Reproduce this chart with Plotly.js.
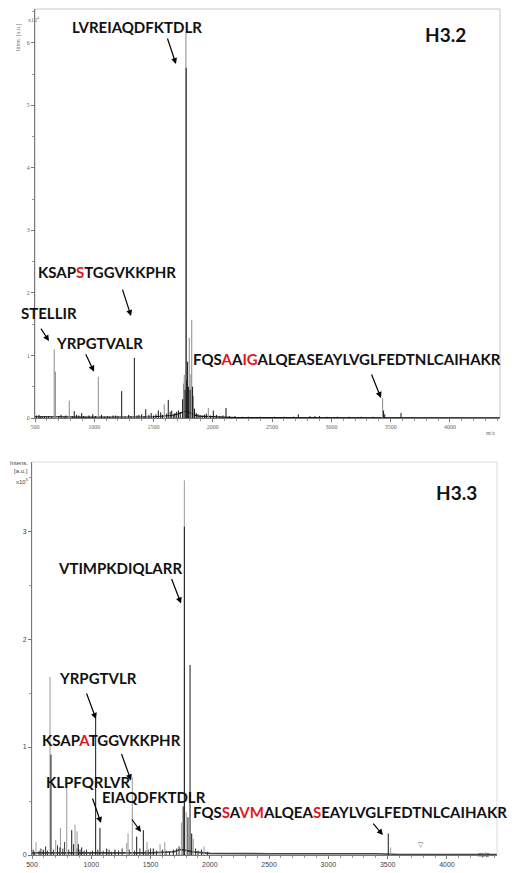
<!DOCTYPE html>
<html>
<head>
<meta charset="utf-8">
<script src="https://cdn.plot.ly/plotly-3.0.1.min.js"></script>
<style>html,body{margin:0;padding:0;background:#fff;}#chart{width:526px;height:873px;}</style>
</head>
<body>
<div id="chart"></div>
<script>
// ---------- H3.2 (top) spectrum, intensity in x10^4 ----------
var topGrayMz = [662, 672, 789, 1034, 1590, 1752, 1759, 1773, 1801, 1815, 1822, 1836, 1962, 3432];
var topGrayI  = [1.10, 0.74, 0.28, 0.66, 0.22, 0.55, 0.69, 6.16, 1.28, 0.70, 1.57, 0.35, 0.16, 0.32];
var topBlackMz = [534, 580, 831, 894, 987, 1158, 1231, 1338, 1377, 1434, 1540, 1624, 1653, 1695, 1745, 1766, 1775, 1780, 1787, 1794, 1808, 1829, 1845, 1892, 2004, 2111, 2187, 2250, 2721, 2819, 2861, 3440, 3450, 3587];
var topBlackI  = [0.05, 0.03, 0.11, 0.08, 0.06, 0.04, 0.43, 0.96, 0.05, 0.14, 0.12, 0.29, 0.12, 0.10, 0.30, 0.45, 5.60, 0.60, 0.90, 0.50, 0.45, 0.50, 0.15, 0.05, 0.12, 0.16, 0.03, 0.02, 0.06, 0.03, 0.03, 0.12, 0.06, 0.08];
var topNoiseMz = [512, 545, 560, 598, 615, 640, 700, 720, 745, 760, 815, 850, 870, 910, 930, 955, 1010, 1060, 1085, 1110, 1130, 1180, 1200, 1260, 1290, 1310, 1360, 1400, 1420, 1460, 1480, 1500, 1520, 1560, 1575, 1610, 1640, 1670, 1680, 1710, 1725, 1860, 1875, 1910, 1930, 1945, 1980, 2030, 2060, 2085, 2140, 2300, 2400, 2520, 2600, 2680, 2900, 2960, 3050, 3150, 3250, 3350];
var topNoiseI  = [0.04, 0.02, 0.03, 0.02, 0.03, 0.02, 0.03, 0.05, 0.02, 0.04, 0.03, 0.05, 0.04, 0.03, 0.02, 0.04, 0.03, 0.05, 0.02, 0.03, 0.02, 0.04, 0.03, 0.02, 0.05, 0.03, 0.04, 0.06, 0.03, 0.05, 0.08, 0.04, 0.06, 0.09, 0.05, 0.07, 0.10, 0.06, 0.08, 0.12, 0.09, 0.08, 0.06, 0.04, 0.05, 0.07, 0.04, 0.05, 0.03, 0.04, 0.03, 0.02, 0.02, 0.02, 0.02, 0.02, 0.03, 0.02, 0.02, 0.02, 0.02, 0.02];
var topBaseMz = [500, 600, 700, 900, 1100, 1300, 1500, 1650, 1700, 1740, 1770, 1800, 1840, 1880, 2000, 2150, 2200, 4420];
var topBaseI  = [0.02, 0.015, 0.02, 0.015, 0.015, 0.015, 0.02, 0.04, 0.06, 0.09, 0.11, 0.09, 0.05, 0.03, 0.02, 0.015, 0.005, 0.003];

// ---------- H3.3 (bottom) spectrum, intensity in x10^5 ----------
var botGrayMz = [534, 652, 700, 740, 793, 863, 880, 1299, 1310, 1346, 1470, 1580, 1620, 1760, 1785, 1800, 1860, 1951, 3525];
var botGrayI  = [0.12, 1.65, 0.14, 0.25, 0.67, 0.28, 0.22, 0.11, 0.20, 0.72, 0.12, 0.10, 0.12, 0.30, 3.47, 0.40, 0.15, 0.08, 0.07];
var botBlackMz = [595, 660, 736, 835, 891, 919, 1037, 1073, 1130, 1200, 1383, 1439, 1523, 1692, 1775, 1785, 1815, 1833, 1847, 3505];
var botBlackI  = [0.05, 0.93, 0.07, 0.23, 0.10, 0.07, 1.27, 0.25, 0.06, 0.05, 0.17, 0.23, 0.06, 0.05, 0.45, 3.04, 0.35, 1.76, 0.20, 0.20];
var botNoiseMz = [510, 520, 560, 575, 615, 630, 680, 715, 760, 775, 810, 850, 880, 905, 940, 960, 990, 1010, 1055, 1100, 1150, 1170, 1230, 1260, 1320, 1365, 1410, 1460, 1480, 1500, 1550, 1600, 1630, 1660, 1720, 1740, 1880, 1900, 1930, 1980];
var botNoiseI  = [0.05, 0.03, 0.04, 0.06, 0.08, 0.04, 0.05, 0.09, 0.06, 0.12, 0.05, 0.10, 0.06, 0.05, 0.04, 0.05, 0.03, 0.04, 0.05, 0.04, 0.05, 0.03, 0.04, 0.06, 0.05, 0.04, 0.06, 0.04, 0.05, 0.06, 0.04, 0.05, 0.04, 0.03, 0.06, 0.08, 0.06, 0.04, 0.05, 0.03];
var botBaseMz = [500, 700, 900, 1100, 1300, 1500, 1700, 1750, 1790, 1850, 1950, 2000, 2500, 3000, 3400, 3600, 4420];
var botBaseI  = [0.02, 0.02, 0.02, 0.02, 0.02, 0.02, 0.03, 0.05, 0.045, 0.03, 0.02, 0.015, 0.012, 0.012, 0.012, 0.005, 0.004];

var xTicks = [500, 1000, 1500, 2000, 2500, 3000, 3500, 4000];

function sticks(mz, inten) {
  var xs = [], ys = [];
  for (var i = 0; i < mz.length; i++) {
    xs.push(mz[i], mz[i], null);
    ys.push(0, inten[i], null);
  }
  return {x: xs, y: ys};
}
function stickTrace(mz, inten, color, width, xa, ya) {
  var s = sticks(mz, inten);
  return {x: s.x, y: s.y, xaxis: xa, yaxis: ya, type: 'scatter', mode: 'lines',
          line: {color: color, width: width}, hoverinfo: 'skip', showlegend: false};
}
function lineTrace(mz, inten, color, width, xa, ya) {
  return {x: mz, y: inten, xaxis: xa, yaxis: ya, type: 'scatter', mode: 'lines',
          line: {color: color, width: width}, hoverinfo: 'skip', showlegend: false};
}

var GRAY = '#8a8a8a', BLACK = '#161616';
var data = [
  lineTrace(topBaseMz, topBaseI, BLACK, 1.2, 'x', 'y'),
  stickTrace(topNoiseMz, topNoiseI, BLACK, 1, 'x', 'y'),
  stickTrace(topGrayMz, topGrayI, GRAY, 1, 'x', 'y'),
  stickTrace(topBlackMz, topBlackI, BLACK, 1, 'x', 'y'),
  lineTrace(botBaseMz, botBaseI, '#444', 1.6, 'x2', 'y2'),
  stickTrace(botNoiseMz, botNoiseI, '#333', 1, 'x2', 'y2'),
  stickTrace(botGrayMz, botGrayI, '#9a9a9a', 1, 'x2', 'y2'),
  stickTrace(botBlackMz, botBlackI, BLACK, 1, 'x2', 'y2')
];

var LBL = {family: 'Lato, "Open Sans", sans-serif', size: 15, color: '#111', weight: 700};
var RED = function (t) { return '<span style="color:#e8141b">' + t + '</span>'; };

function label(xa, ya, x, y, text, anchor) {
  return {xref: xa, yref: ya, x: x, y: y, text: text, showarrow: false,
          xanchor: anchor || 'center', yanchor: 'middle', font: LBL};
}
function arrow(xa, ya, x, y, ax, ay) {
  return {xref: xa, yref: ya, x: x, y: y, ax: ax, ay: ay, text: '', showarrow: true,
          arrowhead: 2, arrowsize: 1, arrowwidth: 1.2, arrowcolor: '#000'};
}

var annotations = [
  // top panel
  label('x', 'y', 1360, 6.26, 'LVREIAQDFKTDLR'),
  arrow('x', 'y', 1689, 5.66, -9, -27),
  label('x', 'y', 1111, 2.34, 'KSAP' + RED('S') + 'TGGVKKPHR'),
  arrow('x', 'y', 1310, 1.63, -9, -28),
  label('x', 'y', 614, 1.68, 'STELLIR'),
  arrow('x', 'y', 618, 1.23, -9, -14),
  label('x', 'y', 1048, 1.20, 'YRPGTVALR'),
  arrow('x', 'y', 998, 0.74, -9, -19),
  label('x', 'y', 1815, 0.94, 'FQS' + RED('A') + 'A' + RED('IG') + 'ALQEASEAYLVGLFEDTNLCAIHAKR', 'left'),
  arrow('x', 'y', 3418, 0.32, -10, -25),
  {xref: 'x', yref: 'y', x: 3962, y: 6.13, text: 'H3.2', showarrow: false,
   font: {family: 'Lato, "Open Sans", sans-serif', size: 19, color: '#111', weight: 700}},
  // bottom panel
  label('x2', 'y2', 1238, 2.66, 'VTIMPKDIQLARR'),
  arrow('x2', 'y2', 1757, 2.33, -10, -26),
  label('x2', 'y2', 1057, 1.64, 'YRPGTVLR'),
  arrow('x2', 'y2', 1040, 1.26, -10, -27),
  label('x2', 'y2', 1170, 1.065, 'KSAP' + RED('A') + 'TGGVKKPHR'),
  arrow('x2', 'y2', 1335, 0.69, -10, -28),
  label('x2', 'y2', 972, 0.676, 'KLPFQRLVR'),
  arrow('x2', 'y2', 1082, 0.296, -9, -26),
  label('x2', 'y2', 1525, 0.537, 'EIAQDFKTDLR'),
  arrow('x2', 'y2', 1419, 0.213, -10, -14),
  label('x2', 'y2', 1841, 0.398, 'FQS' + RED('S') + 'A' + RED('VM') + 'ALQEA' + RED('S') + 'EAYLVGLFEDTNLCAIHAKR', 'left'),
  arrow('x2', 'y2', 3460, 0.185, -11, -13),
  {xref: 'x2', yref: 'y2', x: 4080, y: 3.36, text: 'H3.3', showarrow: false,
   font: {family: 'Lato, "Open Sans", sans-serif', size: 19, color: '#111', weight: 700}},
  {xref: 'x2', yref: 'y2', x: 3781, y: 0.04, text: '\u25BD', showarrow: false, yanchor: 'bottom',
   font: {family: 'DejaVu Sans', size: 7, color: '#666'}},
  // axis captions
  {xref: 'paper', yref: 'paper', x: 12 / 526, y: 1 - 22 / 873, text: 'Inten. [a.u.]', textangle: -90,
   showarrow: false, font: {family: 'Liberation Serif', size: 6, color: '#777'}},
  {xref: 'paper', yref: 'paper', x: 26 / 526, y: 1 - 13 / 873, text: 'x10<sup>4</sup>', showarrow: false,
   font: {family: 'Liberation Serif', size: 6, color: '#777'}},
  {xref: 'paper', yref: 'paper', x: 497 / 526, y: 1 - 433 / 873, text: 'm/z', showarrow: false,
   font: {family: 'Liberation Serif', size: 6, color: '#777'}},
  {xref: 'paper', yref: 'paper', x: 30 / 526, y: 1 - 463 / 873, xanchor: 'right', text: 'Intens.', showarrow: false,
   font: {family: 'Liberation Sans', size: 6, color: '#444'}},
  {xref: 'paper', yref: 'paper', x: 30 / 526, y: 1 - 471 / 873, xanchor: 'right', text: '[a.u.]', showarrow: false,
   font: {family: 'Liberation Sans', size: 6, color: '#444'}},
  {xref: 'paper', yref: 'paper', x: 31 / 526, y: 1 - 481 / 873, xanchor: 'right', text: 'x10<sup>5</sup>', showarrow: false,
   font: {family: 'Liberation Sans', size: 6, color: '#444'}},
  {xref: 'paper', yref: 'paper', x: 492 / 526, y: 1 - 860 / 873, text: 'm/z', showarrow: false,
   font: {family: 'Liberation Sans', size: 7, color: '#444'}}
];

function xAxis(domain, anchor, font) {
  return {domain: domain, anchor: anchor, range: [500, 4422], tickvals: xTicks,
          ticks: 'outside', ticklen: 3, tickcolor: '#777', showline: true, linecolor: '#777', linewidth: 1,
          showgrid: false, zeroline: false, tickfont: font, fixedrange: true,
          minor: {dtick: 100, tick0: 500, ticks: 'outside', ticklen: 2, tickcolor: '#999'}};
}
function yAxis(domain, anchor, range, font) {
  return {domain: domain, anchor: anchor, range: range, dtick: 1, tick0: 0,
          ticks: 'outside', ticklen: 3, tickcolor: '#777', showline: true, linecolor: '#777', linewidth: 1,
          showgrid: false, zeroline: false, tickfont: font, fixedrange: true,
          minor: {dtick: 0.5, ticks: 'outside', ticklen: 2, tickcolor: '#999'}};
}
var serifTick = {family: 'Liberation Serif', size: 6, color: '#666'};
var sansTick = {family: 'Liberation Sans', size: 7, color: '#444'};

var layout = {
  width: 526, height: 873, margin: {l: 0, r: 0, t: 0, b: 0},
  paper_bgcolor: '#fff', plot_bgcolor: '#fff', showlegend: false,
  xaxis: xAxis([35 / 526, 500 / 526], 'y', serifTick),
  yaxis: yAxis([1 - 418 / 873, 1 - 9 / 873], 'x', [0, 6.54], serifTick),
  xaxis2: xAxis([32 / 526, 497 / 526], 'y2', sansTick),
  yaxis2: yAxis([1 - 855 / 873, 1 - 462 / 873], 'x2', [0, 3.64], sansTick),
  shapes: [
    {type: 'rect', xref: 'x domain', yref: 'y domain', x0: 0, x1: 1, y0: 0, y1: 1, layer: 'below',
     line: {color: '#c4c4c4', width: 1}},
    {type: 'rect', xref: 'x2 domain', yref: 'y2 domain', x0: 0, x1: 1, y0: 0, y1: 1, layer: 'below',
     line: {color: '#dcdcdc', width: 1}}
  ],
  annotations: annotations
};

Plotly.newPlot('chart', data, layout, {staticPlot: true, displayModeBar: false});
</script>
</body>
</html>
